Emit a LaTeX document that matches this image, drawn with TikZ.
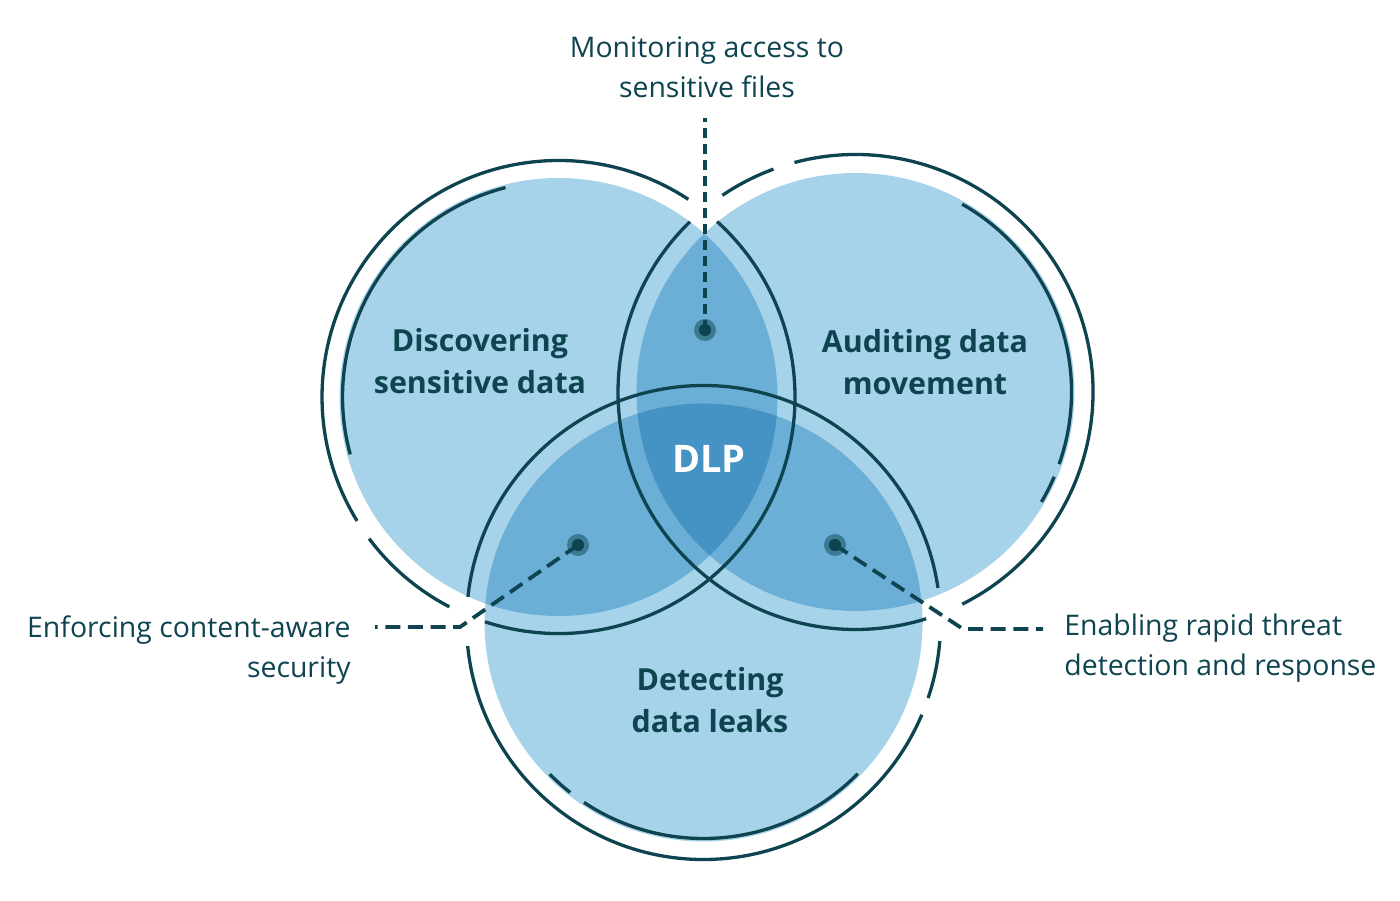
\documentclass[tikz,border=0pt]{standalone}
\usepackage{fontspec}
\setmainfont{Open Sans}
\definecolor{ink}{HTML}{0E4450}
\definecolor{lightfill}{HTML}{A6D3E9}
\definecolor{midfill}{HTML}{6BAFD7}
\definecolor{darkfill}{HTML}{4592C4}
\tikzset{
  ring/.style={draw=ink,line width=1.65pt},
  leader/.style={draw=ink,line width=1.6pt,dash pattern=on 5pt off 3pt},
  leaderlong/.style={draw=ink,line width=1.9pt,dash pattern=on 7.5pt off 3.8pt},
  dotnode/.style={circle,fill=ink,inner sep=0pt,minimum size=6pt},
  halo/.style={fill=ink,opacity=0.5},
  lab/.style={text=ink,inner sep=0pt,font=\fontsize{14.2}{20}\selectfont},
  setlab/.style={text=ink,inner sep=0pt,align=center,font=\fontsize{15.2}{21}\selectfont\bfseries},
}
\newcommand\ringarc[4]{\draw[ring] ([shift={(#2:#4)}]#1) arc[start angle=#2,end angle=#3,radius=#4];}
\begin{document}
\begin{tikzpicture}[x=0.5pt,y=0.5pt]
\useasboundingbox (0,0) rectangle (1400,900);
\coordinate (L) at (558.5,503);
\coordinate (R) at (855.5,508);
\coordinate (B) at (703.5,277.5);
% fills
\fill[lightfill] (L) circle (219);
\fill[lightfill] (R) circle (219);
\fill[lightfill] (B) circle (219);
\begin{scope}
  \clip (L) circle (219);
  \fill[midfill] (R) circle (219);
  \fill[midfill] (B) circle (219);
\end{scope}
\begin{scope}
  \clip (R) circle (219);
  \fill[midfill] (B) circle (219);
\end{scope}
\begin{scope}
  \clip (L) circle (219);
  \clip (R) circle (219);
  \fill[darkfill] (B) circle (219);
\end{scope}
% outer rings (with gaps)
\ringarc{L}{251.9}{407.9}{236.5}
\ringarc{L}{56.7}{211.6}{236.5}
\ringarc{L}{216.8}{242.5}{236.5}
\ringarc{R}{-63.3}{104.9}{237.5}
\ringarc{R}{110.2}{124.1}{237.5}
\ringarc{R}{134.2}{287.3}{237.5}
\ringarc{B}{8.4}{173.8}{237}
\ringarc{B}{185.7}{337.1}{237}
\ringarc{B}{-18.6}{-4.5}{237}
% inner arcs
\ringarc{L}{104.2}{195.4}{216}
\ringarc{R}{-19.5}{60.4}{216}
\ringarc{R}{-30.6}{-23.1}{216}
\ringarc{B}{224.6}{231.9}{216}
\ringarc{B}{236.4}{315.6}{216}
% labels (anchor base = baseline of last line)
\node[setlab,anchor=base] (sL) at (480,506) {Discovering\\sensitive data};
\node[setlab,anchor=base] (sR) at (925,505) {Auditing data\\movement};
\node[setlab,anchor=base] (sB) at (710,168) {Detecting\\data leaks};
\node[text=white,inner sep=0pt,font=\fontsize{19}{22}\selectfont\bfseries,anchor=base] (dlp) at (709,428) {DLP};
\node[lab,align=center,anchor=base] (tTop) at (707,802) {Monitoring access to\\sensitive files};
\node[lab,align=right,anchor=base east] (tLeft) at (351,223) {Enforcing content-aware\\security};
\node[lab,align=left,anchor=base west] (tRight) at (1064,225) {Enabling rapid threat\\detection and response};
% leaders
\coordinate (topEnd) at (705,782);
\coordinate (leftCorner) at (460,273);
\coordinate (leftEnd) at (375,273);
\coordinate (rightCorner) at (963,271);
\coordinate (rightEnd) at (1043,271);
\node[dotnode] (dTop) at (705,570) {};
\node[dotnode] (dLeft) at (578,355) {};
\node[dotnode] (dRight) at (835,355) {};
\draw[leader] (dTop.center) -- (topEnd);
\draw[leaderlong] (dLeft.center) -- (leftCorner) -- (leftEnd);
\draw[leaderlong] (dRight.center) -- (rightCorner) -- (rightEnd);
\fill[halo] (dTop) circle (11);
\fill[halo] (dLeft) circle (11);
\fill[halo] (dRight) circle (11);
\node[dotnode] at (dTop) {};
\node[dotnode] at (dLeft) {};
\node[dotnode] at (dRight) {};
\end{tikzpicture}
\end{document}
